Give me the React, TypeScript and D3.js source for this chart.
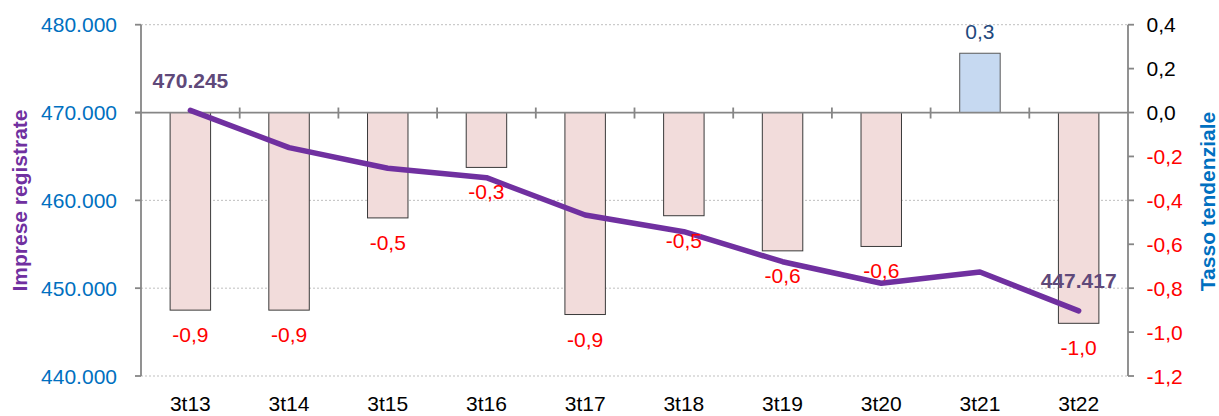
import React from "react";
import * as d3 from "d3";

const categories = ["3t13", "3t14", "3t15", "3t16", "3t17", "3t18", "3t19", "3t20", "3t21", "3t22"];
const rateValues = [-0.9, -0.9, -0.48, -0.25, -0.92, -0.47, -0.63, -0.61, 0.27, -0.96];
const rateLabels = ["-0,9", "-0,9", "-0,5", "-0,3", "-0,9", "-0,5", "-0,6", "-0,6", "0,3", "-1,0"];
const firmValues = [470245, 466000, 463650, 462580, 458330, 456430, 453015, 450555, 451840, 447417];
const leftTicks = [440000, 450000, 460000, 470000, 480000];
const rightTicks = [-1.2, -1.0, -0.8, -0.6, -0.4, -0.2, 0.0, 0.2, 0.4];

const W = 1219;
const H = 416;
const FONT = "'Liberation Sans', Arial, sans-serif";

const locale = d3.formatLocale({ decimal: ",", thousands: ".", grouping: [3], currency: ["€", ""], minus: "-" });
const fmtLeft = locale.format(",.0f");
const fmtRight = locale.format(".1f");

export default function App() {
  const x0 = 141, x1 = 1128, yTop = 24.7, yBot = 376;
  const x = d3.scaleBand<string>().domain(categories).range([x0, x1]).padding(0);
  const yL = d3.scaleLinear().domain([440000, 480000]).range([yBot, yTop]);
  const yR = d3.scaleLinear().domain([-1.2, 0.4]).range([yBot, yTop]);
  const bw = x.bandwidth() * 0.41;
  const cx = (c: string) => (x(c) as number) + x.bandwidth() / 2;
  const zeroY = yR(0);
  const axisColor = "#868686";

  const line = d3
    .line<number>()
    .x((_, i) => cx(categories[i]))
    .y((d) => yL(d));

  return (
    <svg width={W} height={H} style={{ position: "absolute", left: 0, top: 0 }} fontFamily={FONT}>
      <rect x={0} y={0} width={W} height={H} fill="#fff" />
      {/* gridlines */}
      {leftTicks
        .filter((t) => t !== 470000)
        .map((t) => (
          <line key={"g" + t} x1={x0} x2={x1} y1={yL(t)} y2={yL(t)} stroke="#bfbfbf" strokeWidth={1} strokeDasharray="2,2" />
        ))}
      {/* bars */}
      {categories.map((c, i) => {
        const v = rateValues[i];
        const yA = yR(Math.max(0, v));
        const yB = yR(Math.min(0, v));
        return (
          <rect
            key={"b" + c}
            x={cx(c) - bw / 2}
            y={yA}
            width={bw}
            height={yB - yA}
            fill={v >= 0 ? "#C6D9F1" : "#F2DCDB"}
            stroke={v >= 0 ? "#595959" : "#3a3a3a"}
            strokeWidth={1}
          />
        );
      })}
      {/* x axis at zero */}
      <line x1={x0 - 6} x2={x1} y1={zeroY} y2={zeroY} stroke={axisColor} strokeWidth={1.8} />
      {categories.slice(1).map((c) => (
        <line key={"xt" + c} x1={x(c) as number} x2={x(c) as number} y1={zeroY - 5} y2={zeroY + 6} stroke={axisColor} strokeWidth={1.8} />
      ))}
      {/* left axis */}
      <line x1={x0} x2={x0} y1={yTop} y2={yBot} stroke={axisColor} strokeWidth={1.8} />
      {leftTicks.map((t) => (
        <g key={"lt" + t}>
          <line x1={x0 - 6} x2={x0} y1={yL(t)} y2={yL(t)} stroke={axisColor} strokeWidth={1.8} />
          <text x={117} y={yL(t)} dy="0.36em" textAnchor="end" fontSize={21} fill="#0070C0">
            {fmtLeft(t)}
          </text>
        </g>
      ))}
      {/* right axis */}
      <line x1={x1} x2={x1} y1={yTop} y2={yBot} stroke={axisColor} strokeWidth={1.8} />
      {rightTicks.map((t) => (
        <g key={"rt" + t}>
          <line x1={x1} x2={x1 + 6} y1={yR(t)} y2={yR(t)} stroke={axisColor} strokeWidth={1.8} />
          <text x={1146.5} y={yR(t)} dy="0.36em" textAnchor="start" fontSize={21} fill={t < -0.001 ? "#FF0000" : "#000000"}>
            {fmtRight(t)}
          </text>
        </g>
      ))}
      {/* category labels */}
      {categories.map((c) => (
        <text key={"cl" + c} x={cx(c)} y={411} textAnchor="middle" fontSize={21} fill="#000">
          {c}
        </text>
      ))}
      {/* line */}
      <path d={line(firmValues) || ""} fill="none" stroke="#7030A0" strokeWidth={5.5} strokeLinecap="round" strokeLinejoin="round" />
      {/* bar value labels */}
      {categories.map((c, i) => {
        const v = rateValues[i];
        const y = v >= 0 ? yR(v) - 14 : yR(v) + 32;
        return (
          <text key={"vl" + c} x={cx(c)} y={y} textAnchor="middle" fontSize={21} fill={v >= 0 ? "#1F497D" : "#FF0000"}>
            {rateLabels[i]}
          </text>
        );
      })}
      {/* line end labels */}
      {[0, firmValues.length - 1].map((i) => (
        <text key={"ll" + i} x={cx(categories[i])} y={yL(firmValues[i]) - 22.5} textAnchor="middle" fontSize={21} fontWeight="bold" fill="#5F497A">
          {fmtLeft(firmValues[i])}
        </text>
      ))}
      {/* axis titles */}
      <text transform="translate(27,200.5) rotate(-90)" textAnchor="middle" fontSize={21} fontWeight="bold" fill="#7030A0">
        Imprese registrate
      </text>
      <text transform="translate(1215,201.5) rotate(-90)" textAnchor="middle" fontSize={21} fontWeight="bold" fill="#0070C0">
        Tasso tendenziale
      </text>
    </svg>
  );
}
